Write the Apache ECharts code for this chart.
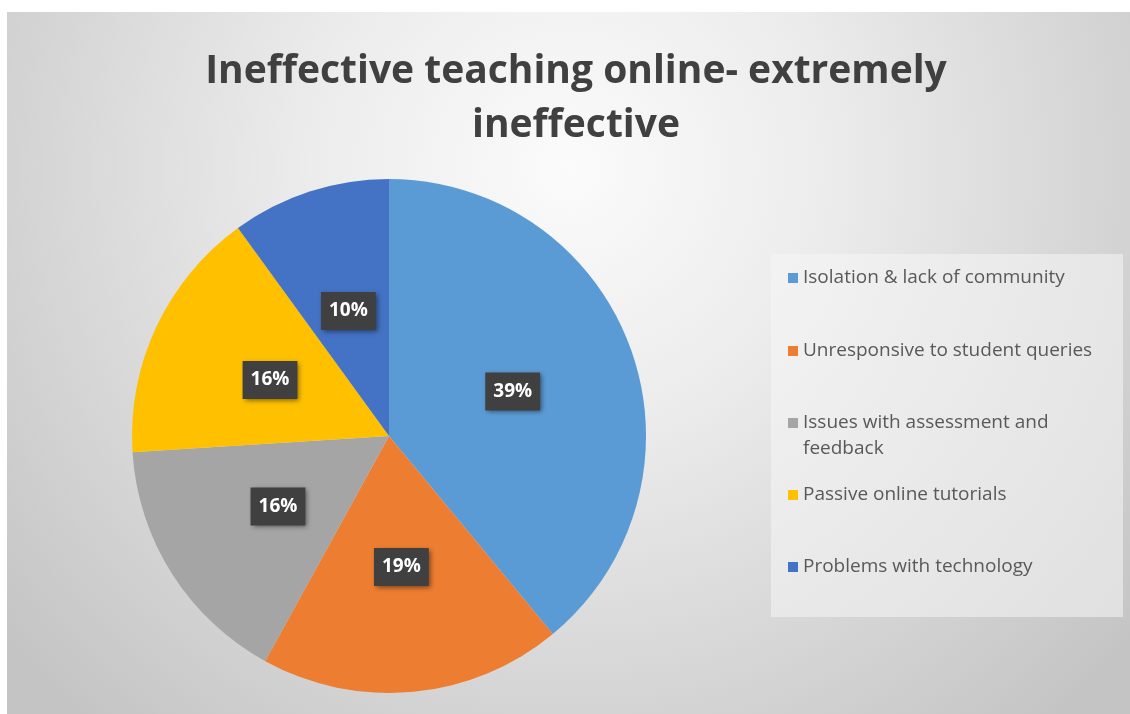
<!DOCTYPE html>
<html>
<head>
<meta charset="utf-8">
<script src="https://cdn.jsdelivr.net/npm/echarts@6/dist/echarts.min.js"></script>
<style>
  html, body { margin: 0; padding: 0; background: #fff; }
  #main { width: 1130px; height: 714px; }
</style>
</head>
<body>
<div id="main"></div>
<script>
// data
const categories = [
  "Isolation & lack of community",
  "Unresponsive to student queries",
  "Issues with assessment and feedback",
  "Passive online tutorials",
  "Problems with technology"
];
const values = [39, 19, 16, 16, 10];
const colors = ["#5B9BD5", "#ED7D31", "#A5A5A5", "#FFC000", "#4472C4"];
// legend rows (top of each item)
const legendTops = [262, 335, 407, 479, 551];

const chart = echarts.init(document.getElementById("main"));

const pieData = categories.map((name, i) => ({
  name: name,
  value: values[i],
  itemStyle: { color: colors[i] }
}));

const legendText = {
  fontFamily: "Open Sans",
  fontSize: 19,
  color: "#595959",
  lineHeight: 22
};

// one legend per row so the spacing matches
const legends = categories.map((name, i) => ({
  data: [name],
  orient: "vertical",
  left: 783,
  top: legendTops[i],
  icon: "rect",
  itemWidth: 10,
  itemHeight: 10,
  itemGap: 0,
  selectedMode: false,
  // the long one wraps: second line is drawn below
  formatter: (n) => n === "Issues with assessment and feedback" ? "Issues with assessment and" : n,
  textStyle: legendText
}));

chart.setOption({
  backgroundColor: "#ffffff",
  animation: false,
  graphic: [
    {
      type: "rect",
      z: -10,
      shape: { x: 7, y: 12, width: 1123, height: 702 },
      style: {
        fill: {
          type: "radial",
          x: 0.5, y: 0.22, r: 1.05,
          colorStops: [
            { offset: 0, color: "#fbfbfb" },
            { offset: 0.35, color: "#ececec" },
            { offset: 1, color: "#c4c4c4" }
          ]
        }
      }
    },
    {
      // legend box
      type: "rect",
      z: -5,
      shape: { x: 771, y: 254, width: 352, height: 363 },
      style: { fill: "rgba(245,245,245,0.55)" }
    },
    {
      type: "text",
      left: 803,
      top: 439,
      style: {
        text: "feedback",
        font: "19px 'Open Sans'",
        fill: "#595959"
      }
    }
  ],
  title: {
    text: "Ineffective teaching online- extremely\nineffective",
    left: 571,
    textAlign: "center",
    top: 40,
    textStyle: {
      fontFamily: "Open Sans",
      fontWeight: "bold",
      fontSize: 39,
      color: "#404040",
      lineHeight: 54
    }
  },
  legend: legends,
  series: [
    {
      type: "pie",
      center: [389, 436],
      radius: 257,
      startAngle: 90,
      clockwise: true,
      label: {
        position: "inside",
        formatter: "{c}%",
        fontFamily: "Open Sans",
        fontWeight: "bold",
        fontSize: 19,
        color: "#ffffff",
        backgroundColor: "#404040",
        padding: [10, 8, 9, 8],
        shadowColor: "rgba(0,0,0,0.5)",
        shadowBlur: 5,
        shadowOffsetX: 2,
        shadowOffsetY: 2
      },
      labelLine: { show: false },
      emphasis: { disabled: true },
      itemStyle: { borderWidth: 0 },
      data: pieData
    }
  ]
});
</script>
</body>
</html>
